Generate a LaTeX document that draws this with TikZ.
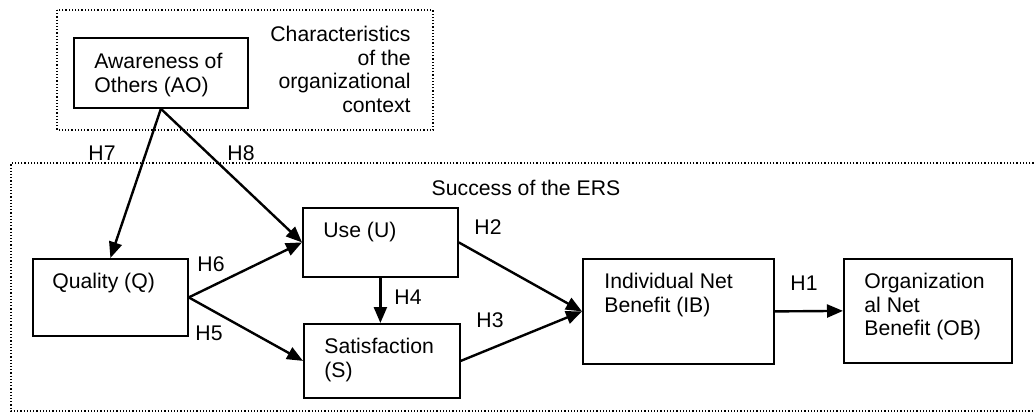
\documentclass[tikz,border=0pt]{standalone}
\usepackage{fontspec}
\setmainfont{Liberation Sans}
\usetikzlibrary{arrows.meta}
\begin{document}
\begin{tikzpicture}[x=0.5pt,y=-0.5pt,
  every node/.style={font=\fontsize{10.6}{11.75}\selectfont},
  box/.style={draw, line width=0.9pt, inner sep=0pt, anchor=north west},
  boxtxt/.style={inner sep=0pt, anchor=base west, align=left},
  arr/.style={line width=1.2pt, -{Triangle[length=8pt,width=6.5pt]}},
  hlab/.style={inner sep=0pt},
  region/.style={densely dotted, line width=0.6pt}]
\useasboundingbox (0,0) rectangle (1034,413);
% regions
\draw[region] (57,10) rectangle (433,130);
\draw[region] (1040,163) -- (11,163) -- (11,411) -- (1040,411);
\node[inner sep=0pt, anchor=base east, align=right] (ctx) at (411,112) {Characteristics\\of the\\organizational\\context};
\node[inner sep=0pt] (ers) at (526,188) {Success of the ERS};
% boxes
\node[box, minimum width=87pt, minimum height=35pt] (AO) at (73,37) {};
\node[boxtxt] (AOt) at ([shift={(21,55)}]AO.north west) {Awareness of\\Others (AO)};
\node[box, minimum width=77.5pt, minimum height=38.5pt] (Q) at (32,258) {};
\node[boxtxt] (Qt) at ([shift={(20,30.5)}]Q.north west) {Quality (Q)};
\node[box, minimum width=77.5pt, minimum height=34.5pt] (U) at (302,207) {};
\node[boxtxt] (Ut) at ([shift={(21,30)}]U.north west) {Use (U)};
\node[box, minimum width=78pt, minimum height=37pt] (S) at (303,323) {};
\node[boxtxt] (St) at ([shift={(21,54)}]S.north west) {Satisfaction\\(S)};
\node[box, minimum width=95.5pt, minimum height=52.5pt] (IB) at (582,258) {};
\node[boxtxt] (IBt) at ([shift={(22,54)}]IB.north west) {Individual Net\\Benefit (IB)};
\node[box, minimum width=84pt, minimum height=52pt] (OB) at (843,258) {};
\node[boxtxt] (OBt) at ([shift={(21,77.5)}]OB.north west) {Organization\\al Net\\Benefit (OB)};
% arrows
\draw[arr] (AO.south) -- (Q.north);
\draw[arr] (AO.south) -- (U.west);
\draw[arr] (Q.east) -- (U.west);
\draw[arr] (Q.east) -- (S.west);
\draw[arr] (U.south) -- (U.south |- S.north);
\draw[arr] (U.east) -- (IB.west);
\draw[arr] (S.east) -- (IB.west);
\draw[arr] (IB.east) -- (OB.west);
% labels
\node[hlab] (h7) at (102,153) {H7};
\node[hlab] (h8) at (241,153) {H8};
\node[hlab] (h6) at (211,264) {H6};
\node[hlab] (h5) at (209,333) {H5};
\node[hlab] (h4) at (408,297) {H4};
\node[hlab] (h2) at (488,227) {H2};
\node[hlab] (h3) at (490,320) {H3};
\node[hlab] (h1) at (804,283) {H1};
\end{tikzpicture}
\end{document}
